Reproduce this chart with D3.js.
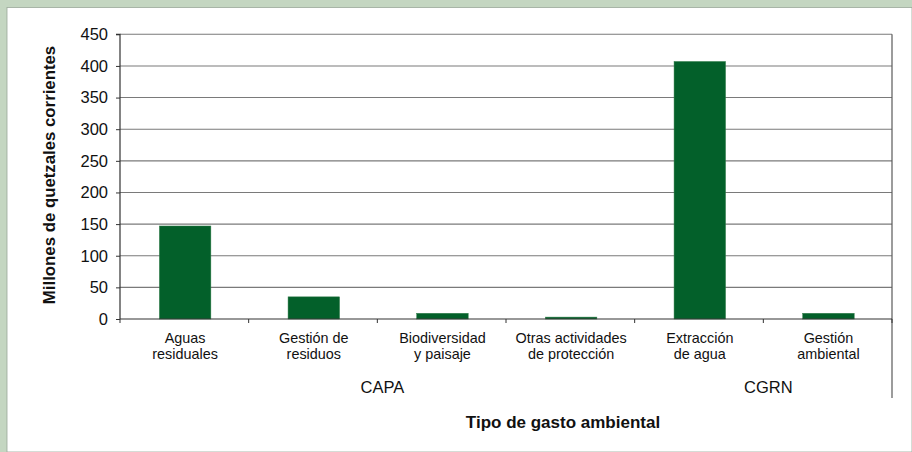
<!DOCTYPE html>
<html>
<head>
<meta charset="utf-8">
<script src="https://cdn.jsdelivr.net/npm/d3@7/dist/d3.min.js"></script>
<style>
  html, body { margin: 0; padding: 0; background: #ffffff; }
  svg { display: block; font-family: "Liberation Sans", Arial, sans-serif; }
</style>
</head>
<body>
<svg id="chart" width="912" height="452"></svg>
<script>
// Gasto ambiental por tipo (millones de quetzales corrientes)
const categories = [
  ["Aguas", "residuales"],
  ["Gestión de", "residuos"],
  ["Biodiversidad", "y paisaje"],
  ["Otras actividades", "de protección"],
  ["Extracción", "de agua"],
  ["Gestión", "ambiental"]
];
const values = [147, 35, 9, 3, 407, 9];
const groups = ["CAPA", "CGRN"];
const groupSizes = [4, 2];
const yTicks = [0, 50, 100, 150, 200, 250, 300, 350, 400, 450];
const yTitle = "Millones de quetzales corrientes";
const xTitle = "Tipo de gasto ambiental";

const svg = d3.select("#chart");
const W = 912, H = 452;
const plot = { left: 120, right: 892, top: 34.3, bottom: 319 };

// Frame: light green band along the top and left edges
svg.append("rect").attr("x", 0).attr("y", 0).attr("width", W).attr("height", H).attr("fill", "#c4d6c1");
svg.append("rect").attr("x", 7).attr("y", 7.5).attr("width", W - 7).attr("height", H - 7.5)
  .attr("fill", "#ffffff").attr("stroke", "#9aa99a").attr("stroke-width", 0.8);

const idx = categories.map((d, i) => i);
const x = d3.scaleBand().domain(idx).range([plot.left, plot.right]).paddingInner(0.6).paddingOuter(0.3);
const step = x.step();
const boundary = i => plot.left + i * step; // category edges
const y = d3.scaleLinear().domain([0, 450]).range([plot.bottom, plot.top]);

// Horizontal gridlines
svg.append("g").selectAll("line").data(yTicks.filter(t => t > 0)).join("line")
  .attr("x1", plot.left).attr("x2", plot.right)
  .attr("y1", d => y(d)).attr("y2", d => y(d))
  .attr("stroke", "#7a7a7a").attr("stroke-width", 1.1);

// Bars
svg.append("g").selectAll("rect").data(values).join("rect")
  .attr("x", (d, i) => x(i) + 0.8)
  .attr("y", d => y(d))
  .attr("width", x.bandwidth())
  .attr("height", d => y(0) - y(d))
  .attr("fill", "#03602a")
  .attr("stroke", "#2f7a47").attr("stroke-width", 0.5);

// Right border of plot, extended down past the category labels
svg.append("line").attr("x1", plot.right).attr("x2", plot.right)
  .attr("y1", plot.top).attr("y2", 398)
  .attr("stroke", "#5a5a5a").attr("stroke-width", 1.2);

// Y axis
const yAxis = d3.axisLeft(y).tickValues(yTicks).tickSize(4).tickPadding(8).tickFormat(d3.format("d"));
const yg = svg.append("g").attr("transform", `translate(${plot.left},0)`).call(yAxis);
yg.select(".domain").attr("stroke", "#333").attr("stroke-width", 1.2).attr("d", `M-4,${plot.top}H0V${plot.bottom}`);
yg.selectAll(".tick line").attr("stroke", "#333");
yg.selectAll(".tick text").attr("font-size", 16.5).attr("fill", "#111")
  .attr("font-family", "Liberation Sans, Arial, sans-serif");

// Category axis line and boundary ticks
svg.append("line").attr("x1", plot.left).attr("x2", plot.right)
  .attr("y1", plot.bottom).attr("y2", plot.bottom)
  .attr("stroke", "#333").attr("stroke-width", 1.2);
svg.append("g").selectAll("line").data(d3.range(categories.length + 1)).join("line")
  .attr("x1", d => boundary(d)).attr("x2", d => boundary(d))
  .attr("y1", plot.bottom).attr("y2", plot.bottom + 4)
  .attr("stroke", "#333").attr("stroke-width", 1);

// Category labels (two lines each)
const catG = svg.append("g").attr("font-size", 14.4).attr("fill", "#111").attr("text-anchor", "middle");
categories.forEach((lines, i) => {
  const cx = boundary(i) + step / 2 + 0.8;
  lines.forEach((t, j) => {
    catG.append("text").attr("x", cx).attr("y", 342.7 + j * 16.6).text(t);
  });
});

// Group labels
let start = 0;
groups.forEach((g, k) => {
  const x0 = boundary(start), x1 = boundary(start + groupSizes[k]);
  svg.append("text").attr("x", (x0 + x1) / 2 + 5).attr("y", 393.3)
    .attr("text-anchor", "middle").attr("font-size", 16.5).attr("fill", "#111").text(g);
  start += groupSizes[k];
});

// Axis titles
svg.append("text").attr("x", 563).attr("y", 428.3).attr("text-anchor", "middle")
  .attr("font-size", 17).attr("font-weight", "bold").attr("fill", "#111").text(xTitle);
svg.append("text").attr("transform", "translate(54.5,175) rotate(-90)")
  .attr("text-anchor", "middle").attr("font-size", 16.8).attr("font-weight", "bold")
  .attr("fill", "#111").text(yTitle);
</script>
</body>
</html>
